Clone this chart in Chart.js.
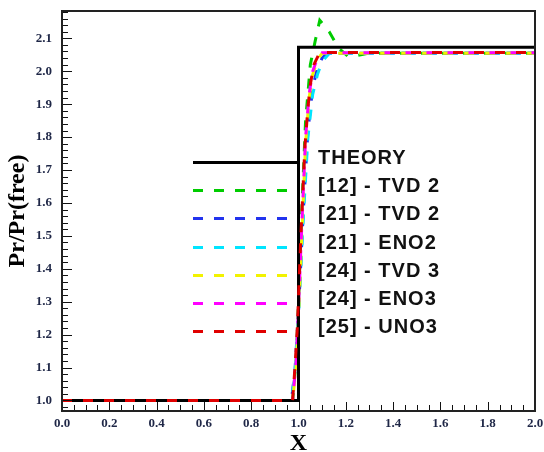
<!DOCTYPE html>
<html>
<head>
<meta charset="utf-8">
<script src="https://cdn.jsdelivr.net/npm/chart.js@4/dist/chart.umd.min.js"></script>
<style>
  html, body { margin: 0; padding: 0; background: #ffffff; }
  #wrap { width: 544px; height: 452px; }
</style>
</head>
<body>
<div id="wrap"><canvas id="c" width="544" height="452"></canvas></div>
<script>
// ---- data ----
const xTickValues = [0.0, 0.2, 0.4, 0.6, 0.8, 1.0, 1.2, 1.4, 1.6, 1.8, 2.0];
const yTickValues = [1.0, 1.1, 1.2, 1.3, 1.4, 1.5, 1.6, 1.7, 1.8, 1.9, 2.0, 2.1];

const seriesNames = ["THEORY", "[12] - TVD 2", "[21] - TVD 2", "[21] - ENO2", "[24] - TVD 3", "[24] - ENO3", "[25] - UNO3"];
const seriesColors = ["#000000", "#00cc00", "#2233ee", "#00e5ff", "#f2f200", "#ff00ff", "#e00000"];

const theoryX = [0.0, 1.0, 1.0, 2.0];
const theoryY = [1.0, 1.0, 2.073, 2.073];

const tvd2aX = [0.0, 0.975, 0.99, 1.0, 1.015, 1.03, 1.05, 1.07, 1.09, 1.13, 1.17, 1.21, 1.25, 1.3, 2.0];
const tvd2aY = [1.0, 1.0, 1.12, 1.3, 1.6, 1.85, 2.02, 2.09, 2.155, 2.12, 2.07, 2.045, 2.048, 2.055, 2.055];

const tvd2bX = [0.0, 0.97, 0.985, 1.0, 1.02, 1.04, 1.06, 1.08, 1.1, 1.12, 2.0];
const tvd2bY = [1.0, 1.0, 1.09, 1.27, 1.57, 1.82, 1.95, 2.01, 2.04, 2.055, 2.055];

const eno2X = [0.0, 0.97, 0.985, 1.0, 1.02, 1.04, 1.06, 1.08, 1.1, 1.13, 2.0];
const eno2Y = [1.0, 1.0, 1.08, 1.25, 1.55, 1.8, 1.93, 1.99, 2.03, 2.054, 2.054];

const tvd3X = [0.0, 0.975, 0.99, 1.0, 1.015, 1.03, 1.045, 1.06, 1.08, 1.1, 2.0];
const tvd3Y = [1.0, 1.0, 1.1, 1.25, 1.52, 1.78, 1.92, 1.99, 2.035, 2.055, 2.055];

const eno3X = [0.0, 0.975, 0.99, 1.0, 1.015, 1.03, 1.045, 1.06, 1.08, 1.1, 2.0];
const eno3Y = [1.0, 1.0, 1.12, 1.28, 1.55, 1.8, 1.93, 2.0, 2.04, 2.056, 2.056];

const uno3X = [0.0, 0.975, 0.985, 0.995, 1.01, 1.027, 1.04, 1.05, 1.065, 1.09, 2.0];
const uno3Y = [1.0, 1.0, 1.1, 1.22, 1.5, 1.77, 1.89, 1.96, 2.02, 2.057, 2.057];

// ---- build datasets ----
const pts = (xs, ys) => xs.map((x, i) => ({ x: x, y: ys[i] }));
const seriesData = [
  pts(theoryX, theoryY), pts(tvd2aX, tvd2aY), pts(tvd2bX, tvd2bY), pts(eno2X, eno2Y),
  pts(tvd3X, tvd3Y), pts(eno3X, eno3Y), pts(uno3X, uno3Y)
];
// lower order is drawn on top: red on top, then the theory line, then the rest
const drawOrder = [1, 6, 5, 4, 3, 2, 0];
const dashOffsets = [0, 3, 16, 14, 12, 7, 0];

const datasets = seriesNames.map((name, i) => ({
  label: name,
  data: seriesData[i],
  borderColor: seriesColors[i],
  backgroundColor: seriesColors[i],
  borderWidth: 3,
  borderDash: i === 0 ? [] : [10, 11],
  borderDashOffset: dashOffsets[i],
  pointRadius: 0,
  tension: 0,
  fill: false,
  order: drawOrder[i]
}));

// ---- plugins: frame, inward ticks, legend ----
const framePlugin = {
  id: 'frame',
  afterDatasetsDraw(chart) {
    const { ctx, chartArea: a, scales } = chart;
    ctx.save();
    ctx.strokeStyle = '#111';
    ctx.lineWidth = 1;
    const xs = scales.x;
    for (let k = 0; k <= 40; k++) {
      const v = k * 0.05;
      const px = Math.round(xs.getPixelForValue(v)) + 0.5;
      const len = (k % 4 === 0) ? 9 : 6;
      ctx.beginPath(); ctx.moveTo(px, a.bottom); ctx.lineTo(px, a.bottom - len); ctx.stroke();
    }
    const ys = scales.y;
    for (let k = 49; k <= 109; k++) {
      const v = k * 0.02;
      if (v < ys.min || v > ys.max) continue;
      const py = Math.round(ys.getPixelForValue(v)) + 0.5;
      const len = (k % 5 === 0) ? 10 : 6;
      ctx.beginPath(); ctx.moveTo(a.left, py); ctx.lineTo(a.left + len, py); ctx.stroke();
    }
    ctx.lineWidth = 2;
    ctx.strokeStyle = '#222';
    ctx.strokeRect(a.left, a.top, a.right - a.left, a.bottom - a.top);
    ctx.restore();
  },
  afterDraw(chart) {
    const { ctx } = chart;
    ctx.save();
    const x0 = 193, x1 = 298, tx = 318, y0 = 162, dy = 28.2;
    ctx.font = 'bold 20px "Liberation Sans", Arial, sans-serif';
    try { ctx.letterSpacing = '1px'; } catch (e) {}
    ctx.textAlign = 'left';
    ctx.textBaseline = 'middle';
    seriesNames.forEach((name, i) => {
      const y = Math.round(y0 + i * dy) + 0.5;
      ctx.strokeStyle = seriesColors[i];
      ctx.lineWidth = 3;
      ctx.setLineDash(i === 0 ? [] : [10, 11]);
      ctx.beginPath(); ctx.moveTo(x0, y); ctx.lineTo(i === 0 ? x1 : x1 - 4, y); ctx.stroke();
      ctx.setLineDash([]);
      ctx.fillStyle = '#111';
      ctx.fillText(name, tx, y - 4);
    });
    ctx.restore();
  }
};

const tickFont = { family: '"Liberation Serif", "Times New Roman", serif', size: 13, weight: 'bold' };
const tickColor = '#1f2747';

new Chart(document.getElementById('c'), {
  type: 'line',
  data: { datasets: datasets },
  options: {
    responsive: false,
    animation: false,
    layout: { padding: { top: 11, right: 9, left: 0, bottom: 0 } },
    plugins: { legend: { display: false }, tooltip: { enabled: false } },
    scales: {
      x: {
        type: 'linear',
        min: 0, max: 2,
        afterFit(s) { s.height = 41; s.paddingLeft = 0; s.paddingRight = 0; },
        afterBuildTicks(s) { s.ticks = xTickValues.map(v => ({ value: v })); },
        grid: { display: false, drawTicks: false },
        border: { display: false },
        ticks: {
          padding: 5, color: tickColor, font: tickFont, maxRotation: 0, autoSkip: false,
          callback: v => Number(v).toFixed(1)
        },
        title: {
          display: true, text: 'X', color: '#000',
          font: { family: '"Liberation Serif", "Times New Roman", serif', size: 24, weight: 'bold', lineHeight: 1 },
          padding: { top: 0, bottom: -4 }
        }
      },
      y: {
        type: 'linear',
        min: 0.968, max: 2.183,
        afterFit(s) { s.width = 62; s.paddingTop = 0; s.paddingBottom = 0; },
        afterBuildTicks(s) { s.ticks = yTickValues.map(v => ({ value: v })); },
        grid: { display: false, drawTicks: false },
        border: { display: false },
        ticks: {
          padding: 10, color: tickColor, font: tickFont, autoSkip: false,
          callback: v => Number(v).toFixed(1)
        },
        title: {
          display: true, text: 'Pr/Pr(free)', color: '#000',
          font: { family: '"Liberation Serif", "Times New Roman", serif', size: 24, weight: 'bold', lineHeight: 1 },
          padding: { top: 6, bottom: 0 }
        }
      }
    }
  },
  plugins: [framePlugin]
});
</script>
</body>
</html>
